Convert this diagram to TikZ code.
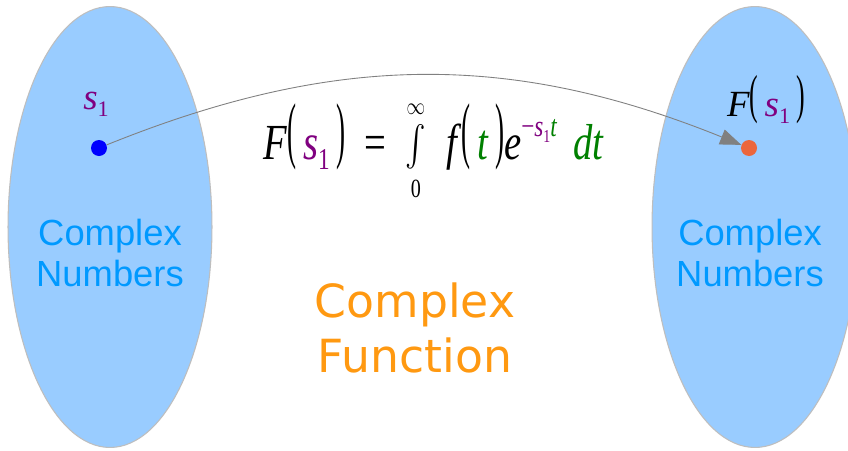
\documentclass[tikz,border=0pt]{standalone}
\usepackage{exscale}
\usepackage{fontspec}
\usepackage{graphicx}
\usetikzlibrary{arrows.meta, shapes.geometric}
\newfontfamily\eqfont{Liberation Serif}
\newfontfamily\numfont{Liberation Sans}
\newfontfamily\funcfont{DejaVu Sans}
\definecolor{cfSet}{RGB}{153,204,255}
\definecolor{cfSetLine}{RGB}{190,190,190}
\definecolor{cfNum}{RGB}{0,153,255}
\definecolor{cfFunc}{RGB}{255,153,17}
\definecolor{cfPurple}{RGB}{128,0,128}
\definecolor{cfGreen}{RGB}{0,128,0}
\definecolor{cfDotIn}{RGB}{0,0,255}
\definecolor{cfDotOut}{RGB}{236,102,60}
\definecolor{cfArrow}{RGB}{128,128,128}
\newcommand{\lpar}{\raisebox{0.1em}{\scalebox{0.7}[1.45]{(}}}
\newcommand{\rpar}{\raisebox{0.1em}{\scalebox{0.7}[1.45]{)}}}
\newcommand{\sone}{\textcolor{cfPurple}{\textit{s}\raisebox{-0.2em}{\scalebox{0.6}{1}}}}
\newcommand{\tvar}{\textcolor{cfGreen}{\textit{t}}}
\newcommand{\lapint}{\mathop{\vcenter{\hbox{\scalebox{0.8}{$\textstyle\int$}}}}}

\begin{document}
\begin{tikzpicture}[x=0.02cm, y=-0.02cm,
    set/.style={ellipse, draw=cfSetLine, fill=cfSet, line width=0.6pt, inner sep=0pt,
      minimum width=4.08cm, minimum height=8.82cm},
    dot/.style={circle, inner sep=0pt, minimum size=0.32cm},
    numtxt/.style={font=\numfont\fontsize{20.7}{23.2}\selectfont, text=cfNum, align=center},
    functxt/.style={font=\funcfont\fontsize{26}{31.2}\selectfont, text=cfFunc, align=center},
    lbl/.style={font=\eqfont\fontsize{21}{24}\selectfont, inner sep=0pt},
    eq/.style={font=\eqfont\fontsize{25}{28}\selectfont, inner sep=0pt},
    arr/.style={-{Triangle[length=12pt, width=9pt, fill=cfArrow]}, draw=cfArrow, line width=0.5pt}
  ]
    \fill[white] (0,0) rectangle (848,450);
    \useasboundingbox (0,0) rectangle (848,450);
    \node[set] (dom) at (110,227) {};
    \node[set, minimum width=4.12cm] (cod) at (755,227) {};
    \node[numtxt] (ldom) at (110,253) {Complex\\Numbers};
    \node[numtxt] (lcod) at (750,253) {Complex\\Numbers};
    \node[functxt] (fn) at (415,328) {Complex\\Function};
    \node[dot, fill=cfDotIn] (s) at (99,148) {};
    \node[dot, fill=cfDotOut] (Fs) at (749,148) {};
    \node[lbl] (sl) at (96,104) {\sone};
    \node[lbl] (fl) at (766,100) {\textit{F}\lpar\,\sone\,\rpar};
    \node[eq] (eqn) at (434,152) {\scalebox{0.88}[1.15]{\textit{F}\lpar\,\sone\,\rpar\enspace=\enspace
      $\lapint\limits_{\mbox{\eqfont\fontsize{13}{13}\selectfont\raisebox{1pt}[\height][\depth]{0}}}^{\mbox{\fontsize{13}{13}\selectfont$\infty$}}$\;
      \textit{f}\lpar\,\tvar\,\rpar\textit{e}\raisebox{0.45em}{\scalebox{0.6}{\textcolor{cfPurple}{−}\sone\tvar}}\,
      \textcolor{cfGreen}{\textit{dt}}}};
    \draw[arr] (s) to[bend left=22] (Fs);
  \end{tikzpicture}
\end{document}
